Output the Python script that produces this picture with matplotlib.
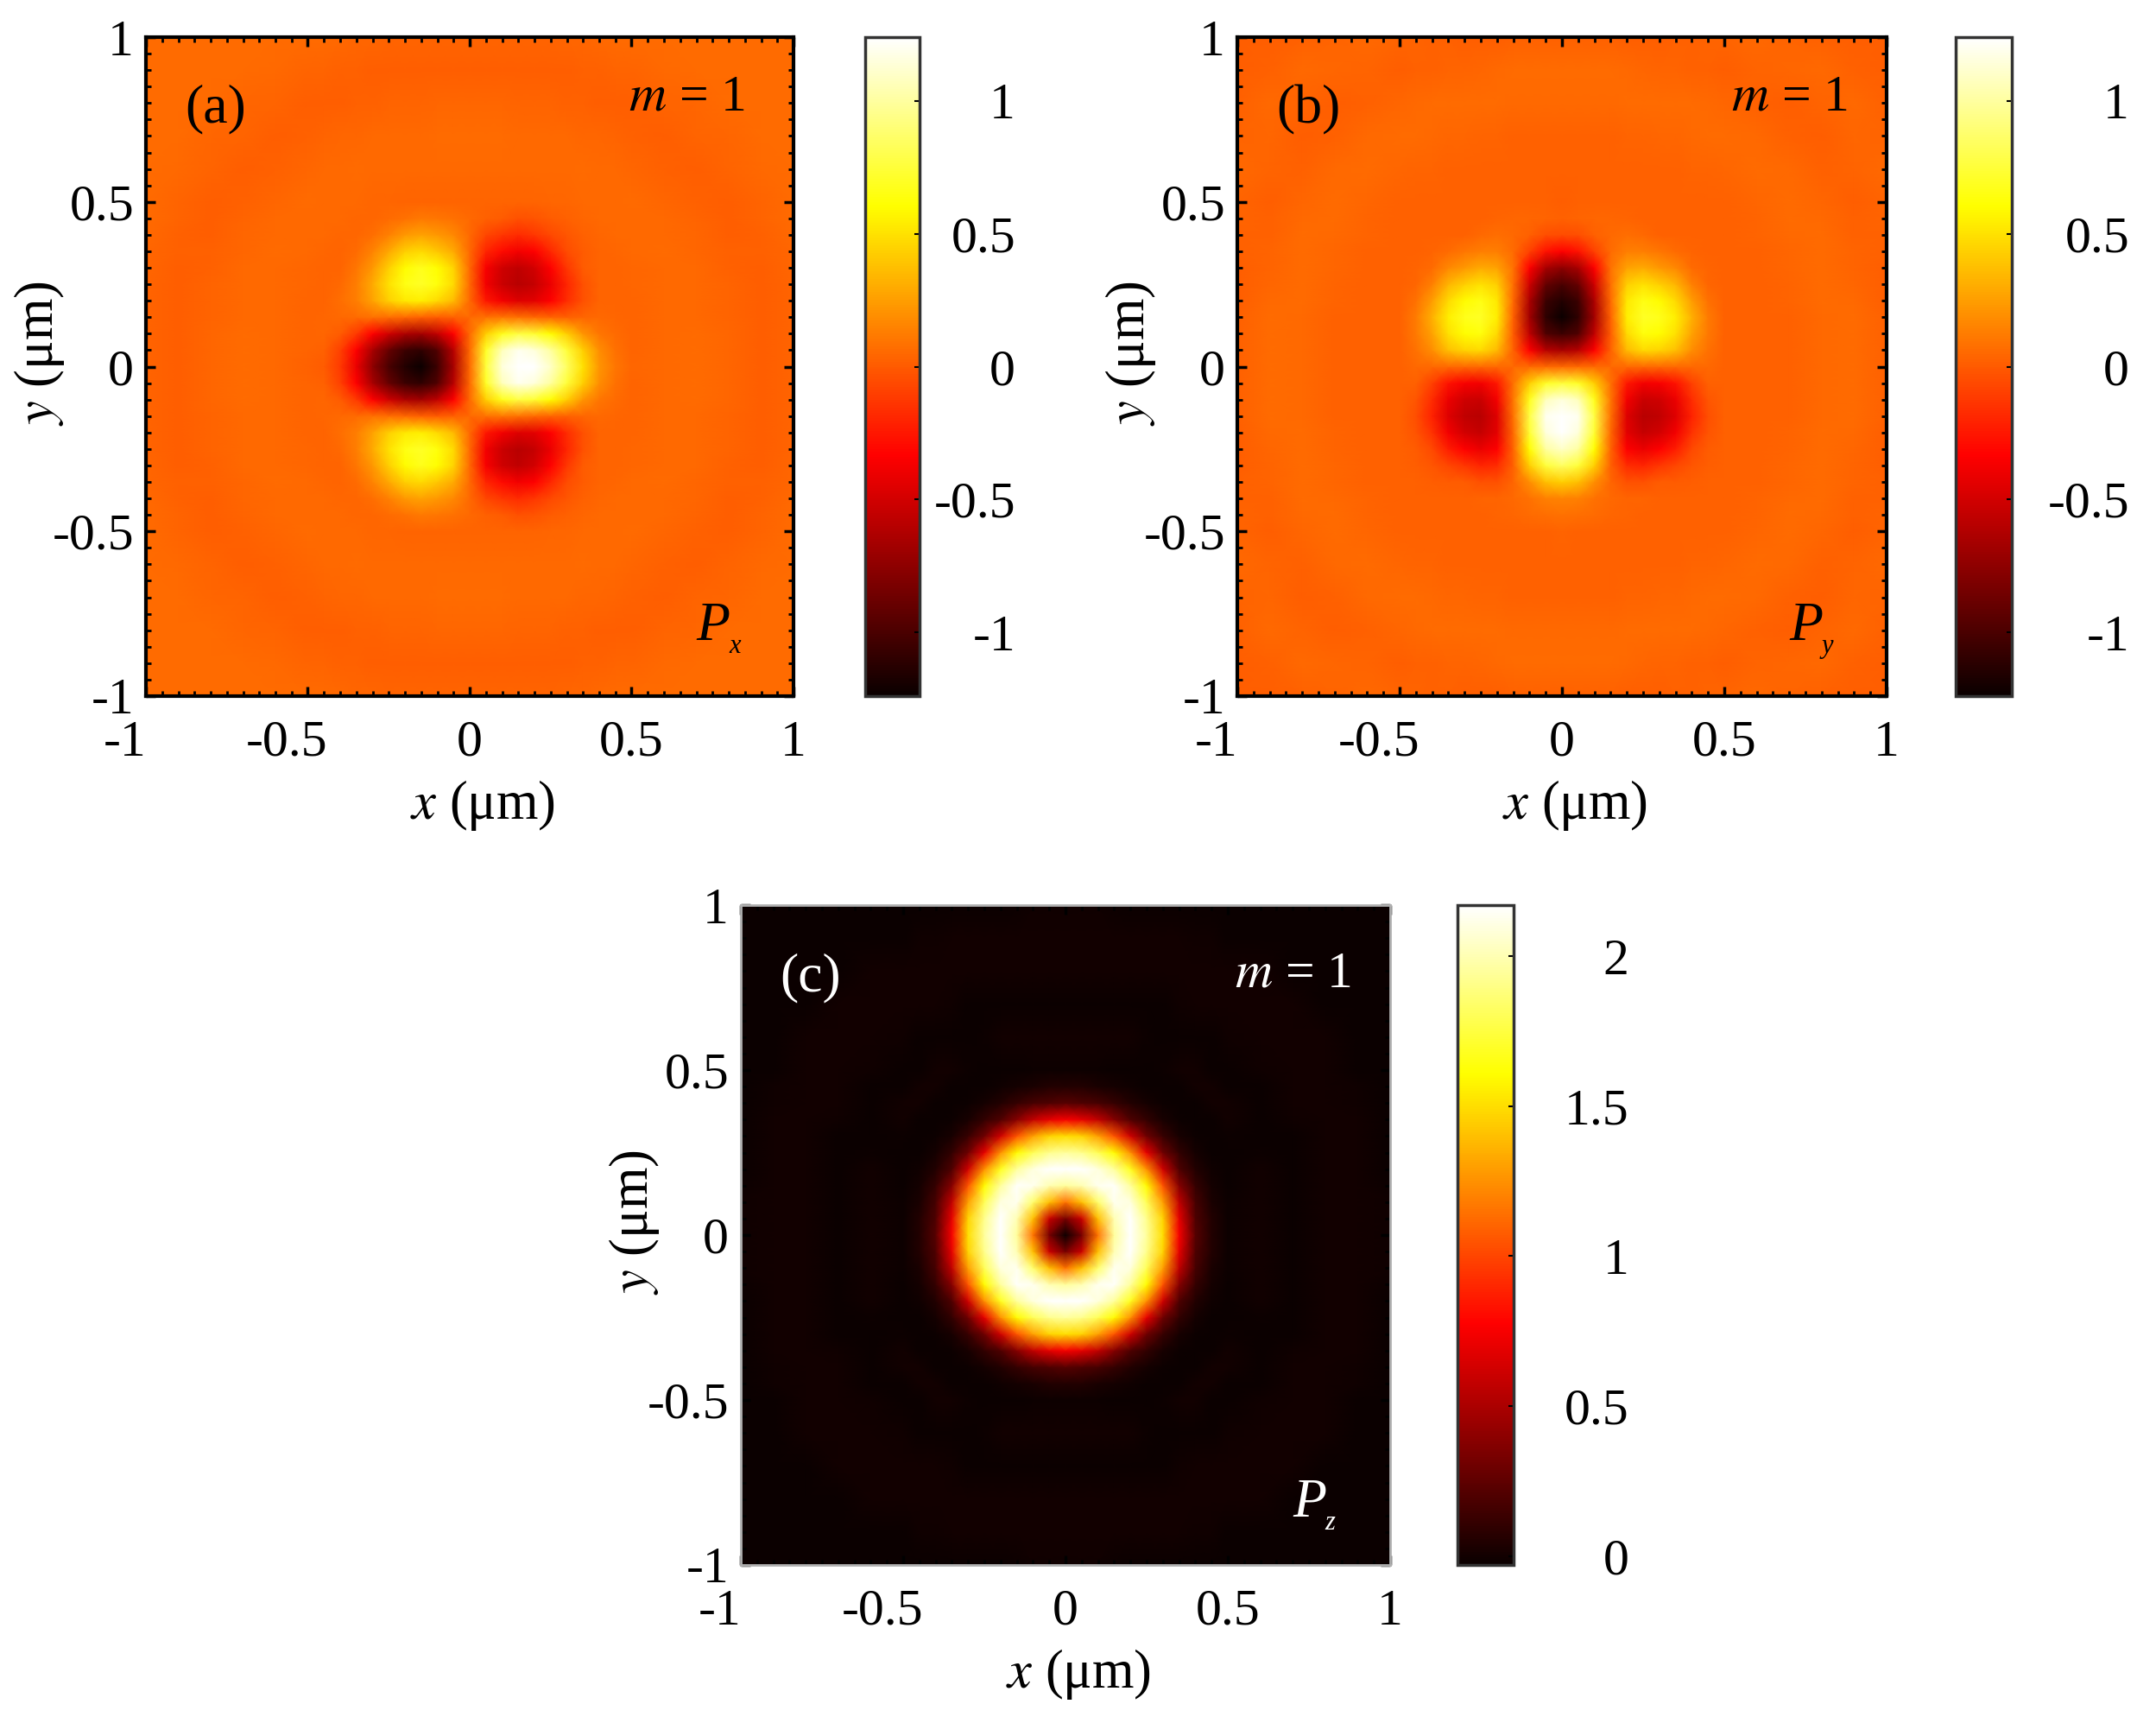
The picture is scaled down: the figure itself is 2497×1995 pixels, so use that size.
import numpy as np
import matplotlib
matplotlib.use("Agg")
import matplotlib.pyplot as plt
from matplotlib.transforms import ScaledTranslation

plt.rcParams['font.family'] = ['Liberation Serif', 'DejaVu Serif']
plt.rcParams['mathtext.fontset'] = 'stix'

# quadrant nodes (um), same for x and y
nodes = [0, .05, .1, .15, .2, .25, .3, .35, .4, .45, .5, .6, .7, .8, .9, 1]

# faint rings behind the lobes, rows are y, columns are x
rings_a = [
    [.05, .05, .05, .05, .05, .05, .05, .05, .05, .05, .03, .05, .06, .04, .015, .03],
    [.05, .05, .05, .05, .05, .05, .05, .05, .05, .05, .03, .05, .06, .04, .015, .03],
    [.05, .05, .05, .05, .05, .05, .05, .05, .05, .05, .03, .05, .06, .04, .015, .03],
    [.05, .05, .05, .05, .05, .05, .05, .05, .05, .04, .03, .05, .055, .035, .015, .03],
    [.05, .05, .05, .05, .05, .05, .05, .05, .05, .03, .035, .05, .055, .03, .015, .035],
    [.05, .05, .05, .05, .05, .05, .05, .05, .04, .03, .04, .055, .05, .03, .015, .035],
    [.05, .05, .05, .05, .05, .05, .05, .05, .03, .035, .045, .055, .05, .025, .015, .04],
    [.05, .05, .05, .05, .05, .05, .05, .03, .035, .04, .05, .06, .045, .02, .02, .045],
    [.05, .05, .05, .05, .05, .04, .03, .035, .04, .05, .055, .055, .04, .015, .025, .05],
    [.05, .05, .05, .04, .03, .03, .035, .04, .05, .05, .055, .05, .03, .015, .03, .06],
    [.03, .03, .03, .03, .035, .04, .045, .05, .055, .055, .06, .045, .025, .015, .035, .06],
    [.05, .05, .05, .05, .05, .055, .055, .06, .055, .05, .045, .025, .015, .03, .055, .06],
    [.06, .06, .06, .055, .055, .05, .05, .045, .04, .03, .025, .015, .03, .045, .06, .06],
    [.04, .04, .04, .035, .03, .03, .025, .02, .015, .015, .015, .03, .045, .06, .06, .06],
    [.015, .015, .015, .015, .015, .015, .015, .02, .025, .03, .035, .055, .06, .06, .06, .06],
    [.03, .03, .03, .03, .035, .035, .04, .045, .05, .06, .06, .06, .06, .06, .06, .06],
]

rings_b = [
    [.05, .05, .05, .05, .05, .05, .05, .05, .05, .05, .025, .02, .02, .05, .06, .02],
    [.05, .05, .05, .05, .05, .05, .05, .05, .05, .05, .025, .02, .02, .05, .06, .02],
    [.05, .05, .05, .05, .05, .05, .05, .05, .05, .05, .025, .02, .02, .05, .06, .02],
    [.05, .05, .05, .05, .05, .05, .05, .05, .05, .04, .025, .02, .025, .055, .06, .02],
    [.05, .05, .05, .05, .05, .05, .05, .05, .05, .03, .02, .02, .03, .06, .05, .015],
    [.05, .05, .05, .05, .05, .05, .05, .05, .04, .025, .02, .02, .035, .06, .045, .015],
    [.05, .05, .05, .05, .05, .05, .05, .05, .025, .02, .02, .02, .04, .065, .035, .015],
    [.05, .05, .05, .05, .05, .05, .05, .03, .02, .02, .02, .02, .045, .065, .03, .02],
    [.05, .05, .05, .05, .05, .04, .025, .02, .02, .02, .02, .03, .05, .06, .025, .025],
    [.05, .05, .05, .04, .03, .025, .02, .02, .02, .02, .02, .035, .06, .05, .02, .03],
    [.025, .025, .025, .025, .02, .02, .02, .02, .02, .02, .025, .045, .065, .04, .015, .035],
    [.02, .02, .02, .02, .02, .02, .02, .02, .03, .035, .045, .065, .05, .02, .03, .05],
    [.02, .02, .02, .025, .03, .035, .04, .045, .05, .06, .065, .05, .025, .015, .04, .03],
    [.05, .05, .05, .055, .06, .06, .065, .065, .06, .05, .04, .02, .015, .03, .05, .02],
    [.06, .06, .06, .06, .05, .045, .035, .03, .025, .02, .015, .03, .04, .05, .025, .015],
    [.02, .02, .02, .02, .015, .015, .015, .02, .025, .03, .035, .05, .03, .02, .015, .015],
]

# Px lobes, quadrant x>=0 y>=0, odd in x and even in y
px_lobes = [
    [0, .70, 1.10, 1.29, 1.20, 1.05, .80, .45, .17, .05, .01, 0, 0, 0, 0, 0],
    [0, .65, 1.02, 1.15, 1.10, .95, .70, .38, .14, .03, 0, 0, 0, 0, 0, 0],
    [0, .38, .62, .72, .68, .56, .38, .17, .05, .01, 0, 0, 0, 0, 0, 0],
    [0, .03, .05, .03, 0, -.02, -.03, -.01, 0, 0, 0, 0, 0, 0, 0, 0],
    [0, -.30, -.42, -.50, -.48, -.38, -.22, -.08, -.02, 0, 0, 0, 0, 0, 0, 0],
    [0, -.42, -.58, -.65, -.60, -.45, -.25, -.08, -.01, 0, 0, 0, 0, 0, 0, 0],
    [0, -.40, -.56, -.62, -.55, -.38, -.18, -.05, 0, 0, 0, 0, 0, 0, 0, 0],
    [0, -.25, -.35, -.42, -.38, -.24, -.10, -.03, 0, 0, 0, 0, 0, 0, 0, 0],
    [0, -.12, -.18, -.22, -.18, -.10, -.04, -.01, 0, 0, 0, 0, 0, 0, 0, 0],
    [0, -.03, -.05, -.07, -.05, -.03, -.01, 0, 0, 0, 0, 0, 0, 0, 0, 0],
    [0] * 16, [0] * 16, [0] * 16, [0] * 16, [0] * 16, [0] * 16,
]

# Py lobes, same quadrant, even in x and odd in y
py_lobes = [
    [0] * 16,
    [-.70, -.65, -.38, -.03, .30, .42, .40, .32, .14, .03, 0, 0, 0, 0, 0, 0],
    [-1.10, -1.02, -.62, -.05, .42, .58, .56, .45, .22, .06, 0, 0, 0, 0, 0, 0],
    [-1.29, -1.15, -.72, -.03, .50, .65, .62, .50, .26, .08, 0, 0, 0, 0, 0, 0],
    [-1.20, -1.10, -.68, 0, .48, .60, .55, .42, .20, .05, 0, 0, 0, 0, 0, 0],
    [-1.05, -.95, -.56, .02, .38, .45, .38, .28, .10, .02, 0, 0, 0, 0, 0, 0],
    [-.80, -.70, -.38, .03, .22, .25, .18, .12, .04, .01, 0, 0, 0, 0, 0, 0],
    [-.38, -.32, -.14, .01, .08, .08, .05, .03, .01, 0, 0, 0, 0, 0, 0, 0],
    [-.10, -.09, -.03, 0, .02, .01, 0, 0, 0, 0, 0, 0, 0, 0, 0, 0],
    [-.03, -.02, -.01, 0, 0, 0, 0, 0, 0, 0, 0, 0, 0, 0, 0, 0],
    [-.01, 0, 0, 0, 0, 0, 0, 0, 0, 0, 0, 0, 0, 0, 0, 0],
    [0] * 16, [0] * 16, [0] * 16, [0] * 16, [0] * 16,
]

# Pz, even in both
pz_quad = [
    [-.03, .33, 1.15, 1.95, 2.17, 1.95, 1.50, .75, .22, .05, -.02, 0, -.03, 0, 0, -.01],
    [.33, .60, 1.40, 2.00, 2.17, 1.92, 1.47, .70, .20, .05, -.02, 0, -.03, 0, 0, -.01],
    [1.15, 1.40, 1.85, 2.13, 2.10, 1.80, 1.30, .58, .17, .03, -.02, 0, -.03, 0, 0, -.01],
    [1.95, 2.00, 2.13, 2.16, 1.95, 1.60, 1.05, .38, .11, .01, -.03, 0, -.03, 0, 0, -.02],
    [2.17, 2.17, 2.10, 1.95, 1.68, 1.25, .62, .20, .05, -.01, -.03, 0, -.03, 0, 0, -.03],
    [1.95, 1.92, 1.80, 1.60, 1.25, .70, .30, .10, .01, -.03, -.03, -.015, -.03, 0, 0, -.03],
    [1.50, 1.47, 1.30, 1.05, .62, .30, .12, .02, -.02, -.03, -.015, -.03, -.03, 0, 0, -.03],
    [.75, .70, .58, .38, .20, .10, .02, -.02, -.03, -.03, 0, -.03, -.01, 0, 0, -.03],
    [.22, .20, .17, .11, .05, .01, -.02, -.03, -.03, 0, 0, -.03, 0, 0, -.005, -.03],
    [.05, .05, .03, .01, -.01, -.03, -.03, -.03, 0, 0, -.03, -.03, 0, 0, -.01, -.03],
    [-.02, -.02, -.02, -.03, -.03, -.03, -.015, 0, 0, -.03, -.03, -.01, 0, 0, -.03, -.03],
    [0, 0, 0, 0, 0, -.015, -.03, -.03, -.03, -.03, -.01, 0, 0, 0, -.03, -.03],
    [-.03, -.03, -.03, -.03, -.03, -.03, -.03, -.01, 0, 0, 0, 0, 0, -.03, -.03, -.03],
    [0, 0, 0, 0, 0, 0, 0, 0, 0, 0, 0, 0, -.03, -.03, -.03, -.03],
    [0, 0, 0, 0, 0, 0, 0, 0, -.005, -.01, -.03, -.03, -.03, -.03, -.03, -.03],
    [-.01, -.01, -.01, -.02, -.03, -.03, -.03, -.03, -.03, -.03, -.03, -.03, -.03, -.03, -.03, -.03],
]

panel_tags = ['(a)', '(b)', '(c)']
m_label = r'$m$ = 1'
comp_names = ['x', 'y', 'z']
limits = [(-1.24, 1.24), (-1.24, 1.24), (-.03, 2.17)]
cbar_ticks_xy = [-1, -.5, 0, .5, 1]
cbar_labels_xy = ['-1', '-0.5', '0', '0.5', '1']
cbar_ticks_z = [0, .5, 1, 1.5, 2]
cbar_labels_z = ['0', '0.5', '1', '1.5', '2']
axis_ticks = [-1, -.5, 0, .5, 1]
axis_labels = ['-1', '-0.5', '0', '0.5', '1']


def mirror(q, sign_x, sign_y):
    q = np.array(q, dtype=float)
    top = np.hstack([sign_x * q[:, :0:-1], q])
    return np.vstack([sign_y * top[:0:-1], top])


n = np.array(nodes)
coords = np.concatenate([-n[:0:-1], n])
px_field = mirror(px_lobes, -1, 1) + mirror(rings_a, 1, 1)
py_field = mirror(py_lobes, 1, -1) + mirror(rings_b, 1, 1)
pz_field = mirror(pz_quad, 1, 1)
fields = [px_field, py_field, pz_field]

W, H = 2497, 1995
fig = plt.figure(figsize=(W / 100, H / 100), dpi=100)
FS = 43

# pixel boxes: left, top, right, bottom
ax_boxes = [(169, 43, 919, 806), (1433, 43, 2185, 806), (858, 1048, 1610, 1812)]
cb_boxes = [(1002, 43, 1065, 806), (2265, 43, 2330, 806), (1688, 1048, 1753, 1812)]
cb_pads = [80, 98, 96]
m_pos = [(.925, .908), (.94, .908), (.94, .894)]
sub_shift = [0, 0, -.012]


def box_axes(b):
    return fig.add_axes([b[0] / W, 1 - b[3] / H, (b[2] - b[0]) / W, (b[3] - b[1]) / H])


for i in range(3):
    ax = box_axes(ax_boxes[i])
    vmin, vmax = limits[i]
    mesh = ax.pcolormesh(coords, coords, fields[i], cmap='hot', vmin=vmin, vmax=vmax,
                         shading='gouraud')
    ax.set_xlim(-1, 1)
    ax.set_ylim(-1, 1)
    ax.set_xticks(axis_ticks)
    ax.set_xticklabels(axis_labels, fontsize=FS)
    ax.set_yticks(axis_ticks)
    ax.set_yticklabels(axis_labels, fontsize=FS)
    ax.set_xticks(np.arange(-1, 1.01, .05), minor=True)
    ax.set_yticks(np.arange(-1, 1.01, .05), minor=True)
    ax.tick_params(which='major', direction='in', length=8, width=2.5, top=True, right=True)
    ax.tick_params(which='minor', direction='in', length=4, width=2, top=True, right=True)
    ax.tick_params(axis='x', which='major', pad=20)
    ax.tick_params(axis='y', which='major', pad=10)
    # minus signs hang out to the left of the tick
    for lab, val in zip(ax.get_xticklabels(), axis_ticks):
        if val < 0:
            lab.set_transform(lab.get_transform() + ScaledTranslation(-24 / 100, 0, fig.dpi_scale_trans))
    for s in ax.spines.values():
        if i == 2:
            s.set_linewidth(2)
            s.set_color('#b0b0b0')
        else:
            s.set_linewidth(3)
    ax.set_xlabel(r'$x$ (μm)', fontsize=FS + 2)
    ax.xaxis.set_label_coords(.52, -.125)
    ax.set_ylabel(r'$y$ (μm)', fontsize=FS + 2)
    ax.yaxis.set_label_coords(-.123, .52)

    tc = 'white' if i == 2 else 'black'
    ax.text(.06, .89, panel_tags[i], transform=ax.transAxes, fontsize=FS + 3, color=tc, va='center')
    ax.text(m_pos[i][0], m_pos[i][1], m_label, transform=ax.transAxes, fontsize=FS, color=tc,
            ha='right', va='center')
    ax.text(.85, .105 + sub_shift[i], 'P', transform=ax.transAxes, fontsize=FS + 3, style='italic',
            color=tc, ha='left', va='center')
    ax.text(.90, .075 + sub_shift[i], comp_names[i], transform=ax.transAxes, fontsize=22, style='italic',
            color=tc, ha='left', va='center')

    cax = box_axes(cb_boxes[i])
    cb = fig.colorbar(mesh, cax=cax)
    if i < 2:
        cb.set_ticks(cbar_ticks_xy, labels=cbar_labels_xy)
    else:
        cb.set_ticks(cbar_ticks_z, labels=cbar_labels_z)
    cb.ax.tick_params(direction='in', length=4, width=1.5, labelsize=FS, pad=cb_pads[i])
    for lab in cb.ax.get_yticklabels():
        lab.set_ha('right')
    cb.outline.set_linewidth(2.5)
    cb.outline.set_edgecolor('#333333')

fig.savefig('out.png', dpi=100)
